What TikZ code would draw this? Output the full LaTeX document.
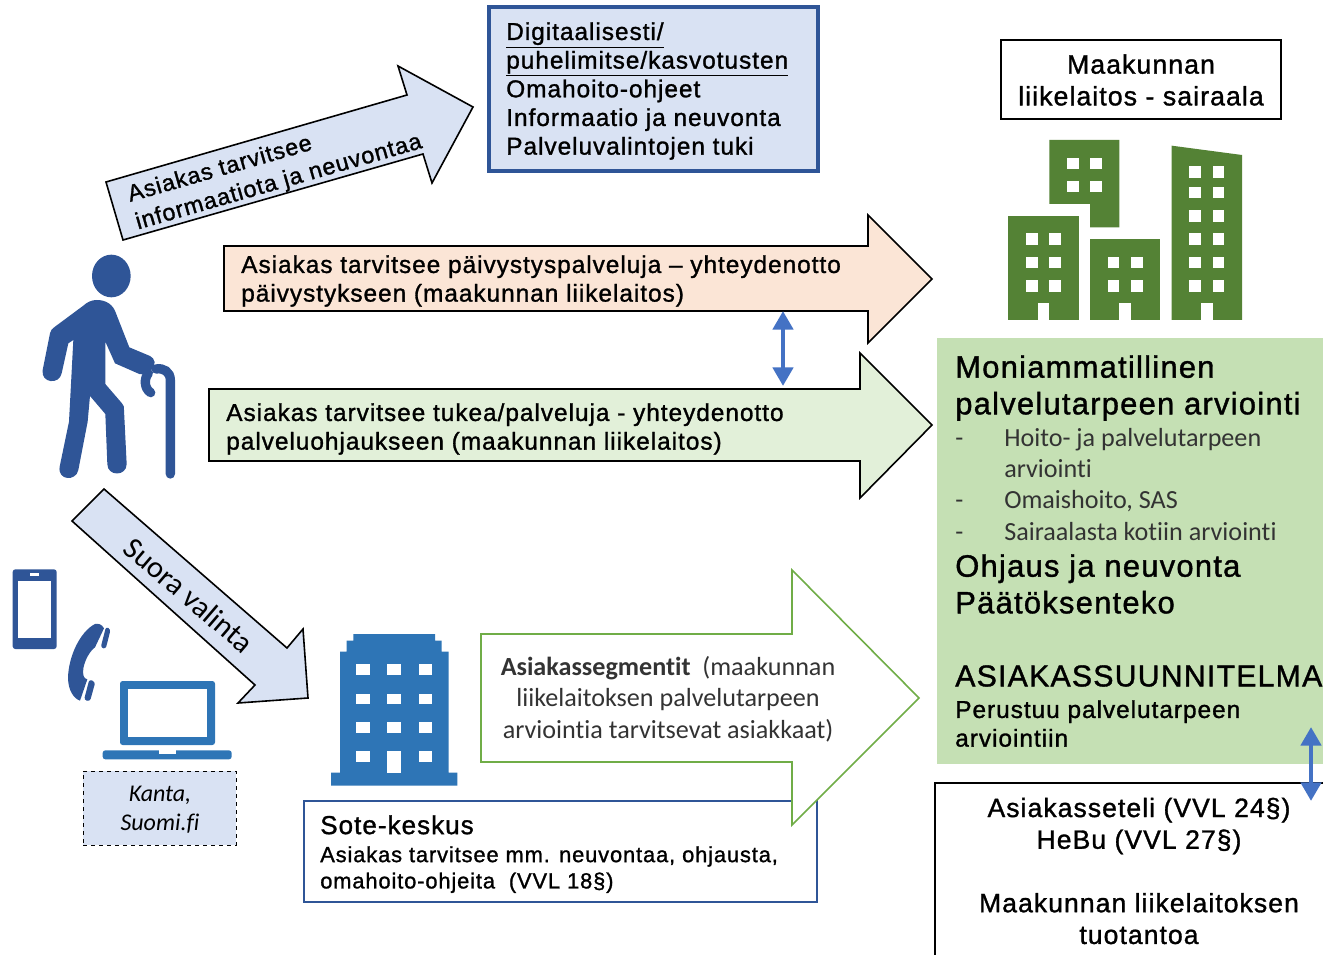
\documentclass[tikz,border=0pt]{standalone}
\usepackage{fontspec}
\setmainfont{Liberation Sans}[LetterSpace=4,FakeBold=1.2]
\newfontfamily\calfont{Carlito}[Ligatures=NoCommon]
\usetikzlibrary{arrows.meta}
\definecolor{lightblue}{HTML}{D9E2F3}
\definecolor{darkblue}{HTML}{2F5597}
\definecolor{midblue}{HTML}{2E75B6}
\definecolor{arrowblue}{HTML}{4472C4}
\definecolor{peach}{HTML}{FBE5D6}
\definecolor{palegreen}{HTML}{E2F0D9}
\definecolor{boxgreen}{HTML}{C5E0B4}
\definecolor{towngreen}{HTML}{548235}
\definecolor{linegreen}{HTML}{70AD47}
\newcommand{\txtsize}{\fontsize{18.3}{21.5}\selectfont}
\newcommand{\headsize}{\fontsize{23.2}{27.5}\selectfont}
\newcommand{\calsize}{\calfont\fontsize{19.6}{23.5}\selectfont}
\tikzset{
	blockarrow/.style={draw=black, line width=1.2pt, line join=miter},
	txtnode/.style={inner sep=0pt, font=\txtsize, text=black},
	framebox/.style={outer sep=0pt, inner sep=0pt, anchor=north west},
	bothways/.style={draw=arrowblue, line width=3.5pt, {Triangle[length=14pt,width=15pt]}-{Triangle[length=14pt,width=15pt]}}
}

\begin{document}
\begin{tikzpicture}[x=0.75pt, y=-0.75pt]
	\useasboundingbox (0,0) rectangle (1323,955);

	% top arrow and box
	\fill [lightblue, blockarrow] (106,182) -- (407,95) -- (398,66) -- (473,107) -- (432,183) -- (423,154) -- (123,240) -- cycle;
	\node [txtnode, rotate=16, align=left, anchor=center, font=\fontsize{17.5}{21.5}\selectfont] (infotext) at (275,169) {Asiakas tarvitsee\\informaatiota ja neuvontaa};
	\node [framebox, draw=darkblue, fill=lightblue, line width=3pt, minimum width=246.75pt, minimum height=123pt] (digibox) at (489,7) {};
	\node [txtnode, align=left, anchor=north west] (digitext) at (506,22) {\underline{Digitaalisesti/}\\\underline{puhelimitse/kasvotusten}\\Omahoito-ohjeet\\Informaatio ja neuvonta\\Palveluvalintojen tuki};

	% the two long arrows
	\fill [peach, blockarrow] (224,246) -- (868,246) -- (868,215) -- (932,279) -- (868,343) -- (868,311) -- (224,311) -- cycle;
	\node [txtnode, align=left, anchor=north west] (ervtext) at (241,255) {Asiakas tarvitsee päivystyspalveluja – yhteydenotto\\päivystykseen (maakunnan liikelaitos)};
	\fill [palegreen, blockarrow] (209,389) -- (860,389) -- (860,353) -- (932,425) -- (860,498) -- (860,461) -- (209,461) -- cycle;
	\node [txtnode, align=left, anchor=north west] (ohjaustext) at (226,403) {Asiakas tarvitsee tukea/palveluja - yhteydenotto\\palveluohjaukseen (maakunnan liikelaitos)};
	\coordinate (ervbottom) at (783,311);
	\coordinate (ohjaustop) at (783,386);
	\draw [bothways] (ervbottom) -- (ohjaustop);

	% person with cane
	\begin{scope}[shift={(0,240)}, scale=1/3]
		\fill [darkblue] (334,108) ellipse (58 and 64);
		\fill [darkblue] (290,180) .. controls (320,180) and (340,195) .. (348,220) -- (388,322) -- (450,348) .. controls (465,355) and (470,375) .. (455,388) -- (445,405) -- (418,402) -- (345,370) -- (316,305) -- (316,432) -- (366,490) .. controls (372,497) and (372,500) .. (372,510) -- (380,672) .. controls (380,710) and (322,710) .. (322,672) -- (316,522) -- (270,468) -- (263,545) -- (235,690) .. controls (228,725) and (172,722) .. (179,680) -- (207,545) -- (220,300) -- (205,310) -- (185,400) .. controls (178,435) and (122,430) .. (128,390) -- (150,280) .. controls (152,270) and (155,268) .. (165,260) -- (250,197) .. controls (262,186) and (275,180) .. (290,180) -- cycle;
		\draw [darkblue, line width=7pt, line cap=round] (511,702) -- (511,420) .. controls (511,395) and (490,383) .. (468,387);
		\draw [darkblue, line width=7pt, line cap=round] (445,400) .. controls (432,415) and (432,445) .. (452,458);
	\end{scope}

	% phone, handset, laptop
	\begin{scope}[shift={(0,550)}, scale=1/3]
		\fill [darkblue, rounded corners=2pt] (38,58) rectangle (170,297);
		\fill [white] (55,92) rectangle (153,263);
		\fill [white] (90,69) rectangle (118,78);
		\fill [darkblue] (285,222) .. controls (240,245) and (205,320) .. (204,385) .. controls (205,420) and (220,445) .. (240,452) -- (262,388) .. controls (250,385) and (248,375) .. (250,355) .. controls (255,330) and (268,305) .. (285,292) -- (312,235) .. controls (305,222) and (295,220) .. (285,222) -- cycle;
		\fill [darkblue, rounded corners=2pt] (318,230) -- (332,238) -- (317,297) -- (302,293) -- cycle;
		\fill [darkblue, rounded corners=2pt] (268,388) -- (286,396) -- (270,454) -- (252,450) -- cycle;
		\fill [midblue, rounded corners=2pt] (360,585) -- (360,393) -- (645,393) -- (645,585) -- cycle;
		\fill [white] (385,418) rectangle (620,560);
		\fill [midblue, rounded corners=2pt] (308,601) -- (695,601) -- (695,628) -- (308,628) -- cycle;
		\fill [white] (478,601) rectangle (527,611);
		% blue building
		\fill [midblue] (1060,252) -- (1305,252) -- (1305,272) -- (1325,272) -- (1325,305) -- (1346,305) -- (1346,668) -- (1372,668) -- (1372,707) -- (993,707) -- (993,668) -- (1020,668) -- (1020,305) -- (1040,305) -- (1040,272) -- (1060,272) -- cycle;
		\foreach \y in {343,431,517,604}
		\foreach \x in {1068,1162,1256}
		\fill [white] (\x,\y) rectangle ++(41,32);
		\fill [white] (1162,630) rectangle (1204,668);
	\end{scope}

	\node [framebox, draw=black, dashed, fill=lightblue, line width=0.7pt, minimum width=114.75pt, minimum height=55.5pt] (kantabox) at (83,771) {};
	\node [align=center, inner sep=0pt, font=\calfont\fontsize{18}{21.5}\selectfont\itshape] (kantatext) at (160,810) {Kanta,\\Suomi.fi};

	% direct choice arrow
	\fill [lightblue, blockarrow] (104,489) -- (287,648) -- (303,629) -- (308,698) -- (238,703) -- (255,685) -- (72,521) -- cycle;
	\node [inner sep=0pt, rotate=-40.6, font=\calfont\fontsize{22.8}{25}\selectfont] (suoratext) at (189,595) {Suora valinta};

	% sote box and arrow over it
	\node [framebox, draw=darkblue, fill=white, line width=0.8pt, minimum width=384.75pt, minimum height=75.75pt] (sotebox) at (304,801) {};
	\node [txtnode, anchor=north west, align=left, font=\fontsize{19.5}{22}\selectfont] (sotetitle) at (320,815) {Sote-keskus};
	\node [txtnode, anchor=north west, align=left, font=\fontsize{16.4}{19.7}\selectfont] (sotetext) at (320,846) {Asiakas tarvitsee mm. neuvontaa, ohjausta,\\omahoito-ohjeita\ \ (VVL 18§)};
	\fill [white, draw=linegreen, line width=1.2pt] (481,634) -- (792,634) -- (792,570) -- (919,698) -- (792,825) -- (792,762) -- (481,762) -- cycle;
	\node [align=center, inner sep=0pt, text=black!80, font=\calsize] (segmenttext) at (668,699) {\textbf{Asiakassegmentit}\ \ (maakunnan\\liikelaitoksen palvelutarpeen\\arviointia tarvitsevat asiakkaat)};

	% hospital side
	\node [framebox, draw=black, line width=1.8pt, minimum width=210pt, minimum height=59.25pt] (sairaalabox) at (1001,40) {};
	\node [align=center, inner sep=0pt, font=\fontsize{20}{23.8}\selectfont] (sairaalatext) at (1141,80) {Maakunnan\\liikelaitos - sairaala};
	\begin{scope}[shift={(990,30)}, scale=1/3]
		\fill [towngreen] (178,330) -- (388,330) -- (388,592) -- (300,592) -- (300,522) -- (178,522) -- cycle;
		\foreach \y in {383,453}
		\foreach \x in {231,301}
		\fill [white] (\x,\y) rectangle ++(35,34);
		\fill [towngreen] (55,557) rectangle (266,870);
		\foreach \y in {610,680,750}
		\foreach \x in {108,178}
		\fill [white] (\x,\y) rectangle ++(35,35);
		\fill [white] (143,820) rectangle (178,870);
		\fill [towngreen] (300,627) rectangle (511,870);
		\foreach \y in {680,750}
		\foreach \x in {353,423}
		\fill [white] (\x,\y) rectangle ++(35,35);
		\fill [white] (388,820) rectangle (423,870);
		\fill [towngreen] (545,347) -- (756,375) -- (756,870) -- (545,870) -- cycle;
		\foreach \y in {409,470,540,610,680,750}
		\foreach \x in {598,668}
		\fill [white] (\x,\y) rectangle ++(35,35);
		\fill [white] (633,820) rectangle (668,870);
	\end{scope}

	% assessment box
	\fill [boxgreen] (937,338) rectangle (1323,764);
	\node [inner sep=0pt, anchor=north west, align=left, font=\headsize] (arvioheader) at (955,355) {Moniammatillinen\\palvelutarpeen arviointi};
	\node [inner sep=0pt, anchor=north west, align=left, text=black!80, font=\calsize] (arviodash) at (955,424) {\strut-\\\strut\\\strut-\\\strut-};
	\node [inner sep=0pt, anchor=north west, align=left, text=black!80, font=\calsize] (arviotext) at (1004,424) {\strut Hoito- ja palvelutarpeen\\\strut arviointi\\\strut Omaishoito, SAS\\\strut Sairaalasta kotiin arviointi};
	\node [inner sep=0pt, anchor=north west, align=left, font=\headsize] (paatostext) at (955,554) {Ohjaus ja neuvonta\\Päätöksenteko};
	\node [inner sep=0pt, anchor=north west, align=left, font=\fontsize{22.7}{27.5}\selectfont] (suunnitelma) at (955,665) {ASIAKASSUUNNITELMA};
	\node [txtnode, anchor=north west, align=left] (perustuu) at (955,700) {Perustuu palvelutarpeen\\arviointiin};

	% bottom box, open to the page edge
	\draw [line width=1.8pt] (935,960) -- (935,783) -- (1330,783);
	\node [align=center, inner sep=0pt, font=\fontsize{19.9}{23.8}\selectfont] (seteltext) at (1139,871) {Asiakasseteli (VVL 24§)\\HeBu (VVL 27§)\\[\baselineskip]Maakunnan liikelaitoksen\\tuotantoa};
	\coordinate (arviobottom) at (1311,727);
	\coordinate (setelitop) at (1311,801);
	\draw [bothways] (arviobottom) -- (setelitop);
\end{tikzpicture}
\end{document}
